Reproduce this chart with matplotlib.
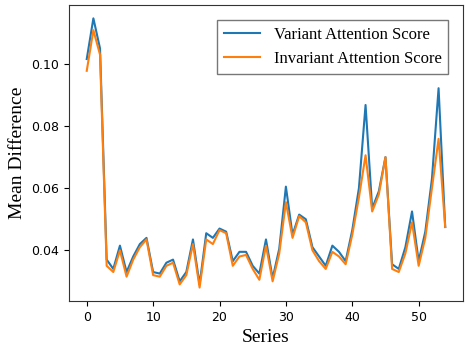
import matplotlib
matplotlib.use("Agg")
import matplotlib.pyplot as plt
import numpy as np

# values
variant = [0.1016, 0.1147, 0.105, 0.037, 0.034, 0.0415, 0.033, 0.038, 0.042, 0.044,
           0.033, 0.0325, 0.036, 0.037, 0.030, 0.033, 0.0435, 0.029, 0.0455, 0.044,
           0.047, 0.046, 0.0365, 0.0395, 0.0395, 0.035, 0.0325, 0.0435, 0.031, 0.0405,
           0.0605, 0.045, 0.0515, 0.050, 0.041, 0.038, 0.035, 0.0415, 0.0395, 0.0365,
           0.0465, 0.060, 0.0868, 0.0535, 0.059, 0.070, 0.0355, 0.034, 0.041, 0.0525,
           0.0365, 0.046, 0.063, 0.0922, 0.0475]
invariant = [0.0978, 0.1109, 0.103, 0.035, 0.033, 0.040, 0.0315, 0.037, 0.041, 0.0435,
             0.032, 0.0315, 0.035, 0.036, 0.029, 0.032, 0.042, 0.028, 0.0435, 0.042,
             0.0465, 0.0455, 0.035, 0.038, 0.0385, 0.034, 0.0305, 0.0415, 0.030, 0.039,
             0.0555, 0.044, 0.051, 0.049, 0.040, 0.0365, 0.034, 0.0395, 0.038, 0.0355,
             0.045, 0.057, 0.0706, 0.0525, 0.058, 0.070, 0.034, 0.033, 0.039, 0.049,
             0.035, 0.044, 0.060, 0.0759, 0.0475]
series = np.arange(len(variant))

fig = plt.figure(figsize=(4.65, 3.49), dpi=100)
ax = fig.add_axes([0.148, 0.1375, 0.848, 0.8485])

ax.plot(series, variant, color="#1f77b4", label="Variant Attention Score")
ax.plot(series, invariant, color="#ff7f0e", label="Invariant Attention Score")

ax.set_xlabel("Series", family="Liberation Serif", fontsize=14)
ax.set_ylabel("Mean Difference", family="Liberation Serif", fontsize=14)
ax.set_xticks([0, 10, 20, 30, 40, 50])
ax.set_yticks([0.04, 0.06, 0.08, 0.10])
ax.tick_params(labelsize=9)
for s in ax.spines.values():
    s.set_color("#333333")

leg = ax.legend(loc="upper right", prop={"family": "Liberation Serif", "size": 12},
                fancybox=False, edgecolor="#555555", handlelength=2.2,
                borderaxespad=0.9)

fig.savefig("out.png", dpi=100)
